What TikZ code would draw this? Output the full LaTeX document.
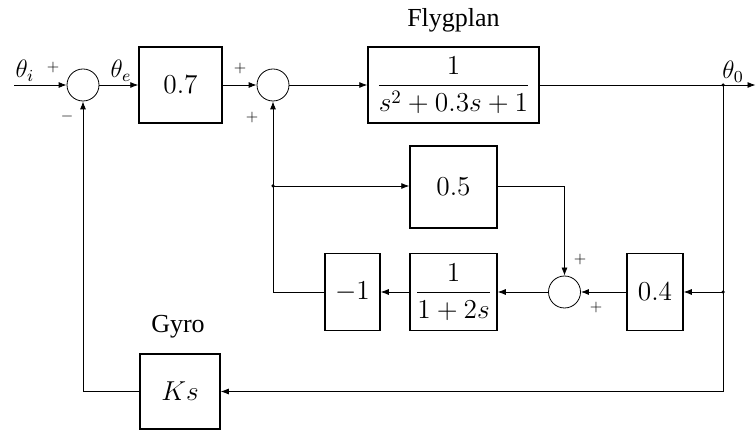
\documentclass[tikz,border=0pt]{standalone}
\usepackage{fontspec}
\newfontfamily\tms{Liberation Serif}
\usetikzlibrary{arrows.meta}
\begin{document}
\begin{tikzpicture}[x=1pt,y=-1pt,
  blk/.style={draw,line width=1.5pt,inner sep=0pt},
  btxt/.style={scale=1.9,inner sep=0pt,font=\fontsize{14.4}{17}\selectfont},
  sumc/.style={draw,circle,line width=0.8pt,minimum size=32pt,inner sep=0pt},
  conn/.style={line width=0.8pt,-{Latex[length=8pt,width=6pt]}},
  sgn/.style={scale=1.6,font=\fontsize{10}{12}\selectfont,inner sep=0pt},
  lbl/.style={scale=2.1,font=\fontsize{12}{14}\selectfont,inner sep=0pt},
  ttl/.style={font=\tms\fontsize{26}{30}\selectfont,inner sep=0pt},
  dotn/.style={circle,fill,inner sep=0pt,minimum size=3.5pt}]
\useasboundingbox (0,0) rectangle (756,430);
% blocks
\coordinate (in) at (14,85);
\node[sumc] (s1) at (83,85) {};
\node[blk,minimum width=83pt,minimum height=76pt] (b07) at (180.5,85) {};
\node[sumc] (s2) at (273,85) {};
\node[blk,minimum width=171pt,minimum height=76pt] (bF) at (453.5,85) {};
\coordinate (out) at (755.5,85);
\node[dotn] (d1) at (723,85) {};
\node[dotn] (d3) at (273,186) {};
\node[blk,minimum width=87pt,minimum height=82pt] (b05) at (453.5,187) {};
\node[sumc] (s3) at (564.5,292) {};
\node[blk,minimum width=56pt,minimum height=77pt] (b04) at (655,292) {};
\node[blk,minimum width=87pt,minimum height=77pt] (bG) at (453.5,292) {};
\node[blk,minimum width=55pt,minimum height=77pt] (bm1) at (352.5,292) {};
\node[dotn] (d2) at (723,292) {};
\node[blk,minimum width=80pt,minimum height=75pt] (bKs) at (180,391.5) {};
% block contents
\node[btxt] (t07) at (b07) {$0.7$};
\node[btxt] (tF1) at (bF) {$\displaystyle\frac{1}{s^2+0.3s+1}$};
\node[btxt] (t05) at (b05) {$0.5$};
\node[btxt] (t04) at (b04) {$0.4$};
\node[btxt] (tG1) at (bG) {$\displaystyle\frac{1}{1+2s}$};
\node[btxt] (tm1) at (bm1) {$-1$};
\node[btxt] (tKs) at (bKs) {$Ks$};
% labels
\node[lbl] (li) at (25,71) {$\theta_i$};
\node[lbl] (le) at (121,71) {$\theta_e$};
\node[lbl] (lo) at (733,72) {$\theta_0$};
\node[ttl] (tF) at (453.5,20) {Flygplan};
\node[ttl] (tG) at (178,327) {Gyro};
\node[sgn] (p1) at (53,68) {$+$};
\node[sgn] (m1) at (67,117) {$-$};
\node[sgn] (p2) at (240,69) {$+$};
\node[sgn] (p3) at (252,118) {$+$};
\node[sgn] (p4) at (580,260) {$+$};
\node[sgn] (p5) at (596,308) {$+$};
% connectors
\draw[conn] (in) -- (s1.west);
\draw[conn] (s1.east) -- (b07.west);
\draw[conn] (b07.east) -- (s2.west);
\draw[conn] (s2.east) -- (bF.west);
\draw[conn] (bF.east) -- (out);
\draw[conn] (d1.center) |- (bKs.east);
\draw[conn] (d2.center) -- (b04.east);
\draw[conn] (b04.west) -- (s3.east);
\draw[conn] (s3.west) -- (bG.east);
\draw[conn] (bG.west) -- (bm1.east);
\draw[conn] (bm1.west) -| (s2.south);
\draw[conn] (d3.center) -- (b05.west |- d3);
\draw[conn] (b05.east |- d3) -| (s3.north);
\draw[conn] (bKs.west) -| (s1.south);
\end{tikzpicture}
\end{document}
